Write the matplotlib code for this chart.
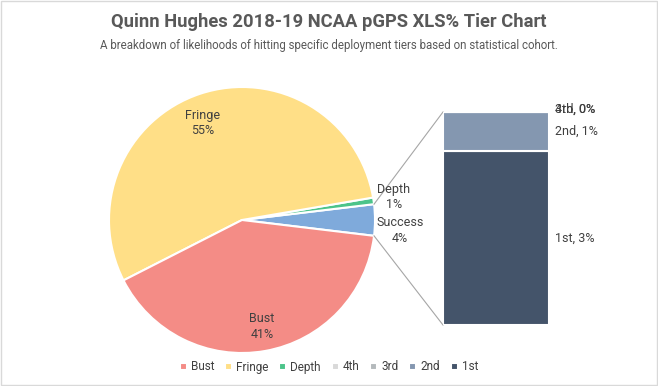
import matplotlib
matplotlib.use("Agg")
import matplotlib.pyplot as plt
import numpy as np
from matplotlib.patches import Rectangle

plt.rcParams['font.family'] = ['Roboto', 'DejaVu Sans']

# pie slices (Success is split out into the bar)
pie_labels = ["Success", "Depth", "Fringe", "Bust"]
pie_values = [3.8, 0.8, 54.8, 40.6]
pie_colors = ["#7FAADB", "#4CC48A", "#FFDF87", "#F48C86"]

# bar of the Success slice
bar_labels = ["1st", "2nd", "3rd", "4th"]
bar_values = [3.1, 0.7, 0.0, 0.0]
bar_colors = ["#44546A", "#8497B0", "#B4B9BC", "#D9D9D9"]
bar_texts = ["1st, 3%", "2nd, 1%", "3rd, 0%", "4th, 0%"]

W, H = 658, 386
fig = plt.figure(figsize=(W / 100, H / 100), dpi=100)
ax = fig.add_axes([0, 0, 1, 1])

cx, cy, r = 242, H - 220, 133
start = -pie_values[0] * 3.6 / 2
wedges, _ = ax.pie(pie_values, colors=pie_colors, radius=r, center=(cx, cy),
                   startangle=start, counterclock=True,
                   wedgeprops=dict(edgecolor="white", linewidth=1.5))
ax.set_xlim(0, W)
ax.set_ylim(0, H)
ax.set_aspect("equal")
ax.axis("off")

txt = "#404040"
ax.text(203, H - 123, "Fringe\n55%", ha="center", va="center", fontsize=9, color=txt, linespacing=1.3)
ax.text(262, H - 327, "Bust\n41%", ha="center", va="center", fontsize=9, color=txt, linespacing=1.3)
ax.text(394, H - 197, "Depth\n1%", ha="center", va="center", fontsize=9, color=txt, linespacing=1.3)
ax.text(400, H - 230, "Success\n4%", ha="center", va="center", fontsize=9, color=txt, linespacing=1.3)

# bar axes
bx0, bx1, by0, by1 = 443, 549, 112, 325
bax = fig.add_axes([bx0 / W, 1 - by1 / H, (bx1 - bx0) / W, (by1 - by0) / H])
bottom = 0
bars = []
for lab, v, c in zip(bar_labels, bar_values, bar_colors):
    b = bax.bar(0, v, width=1, bottom=bottom, color=c, edgecolor="white", linewidth=1.5, label=lab)
    bars.append(b)
    bottom += v
bax.set_xlim(-0.5, 0.5)
bax.set_ylim(0, sum(bar_values))
bax.axis("off")

bottom = 0
for t, v in zip(bar_texts, bar_values):
    y = bottom + v / 2
    if v == 0:
        y = bottom + 0.04
    bax.text(0.56, y, t, ha="left", va="center", fontsize=9, color=txt, clip_on=False)
    bottom += v

# connector lines
w0 = wedges[0]
a1, a2 = np.radians(w0.theta1), np.radians(w0.theta2)
ax.plot([cx + r * np.cos(a2), bx0], [cy + r * np.sin(a2), H - by0], color="#A6A6A6", lw=0.8)
ax.plot([cx + r * np.cos(a1), bx0], [cy + r * np.sin(a1), H - by1], color="#A6A6A6", lw=0.8)

fig.text(0.5, 1 - 22 / H, "Quinn Hughes 2018-19 NCAA pGPS XLS% Tier Chart", ha="center", va="center",
         fontsize=13.2, fontweight="bold", color="#595959")
fig.text(0.5, 1 - 46 / H, "A breakdown of likelihoods of hitting specific deployment tiers based on statistical cohort.",
         ha="center", va="center", fontsize=8.3, color="#595959")

handles = [wedges[3], wedges[2], wedges[1], bars[3], bars[2], bars[1], bars[0]]
labels = ["Bust", "Fringe", "Depth", "4th", "3rd", "2nd", "1st"]
fig.legend(handles, labels, loc="center", bbox_to_anchor=(0.5, 1 - 367 / H), ncol=7, frameon=False,
           fontsize=8.5, handlelength=0.6, handleheight=0.6, columnspacing=0.9, handletextpad=0.35,
           labelcolor=txt)

fig.patches.append(Rectangle((0.001, 0.002), 0.997, 0.995, transform=fig.transFigure, fill=False,
                             edgecolor="#D9D9D9", lw=1))

fig.savefig("out.png", dpi=100)
